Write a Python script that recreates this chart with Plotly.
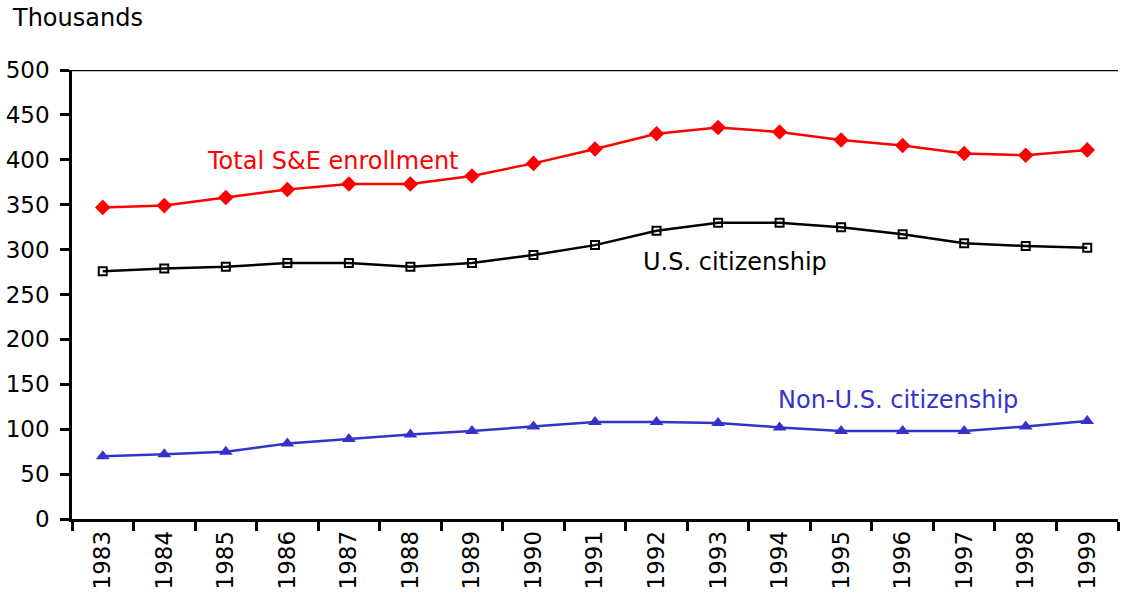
import plotly.graph_objects as go

years = [str(y) for y in range(1983, 2000)]
total_se = [347, 349, 358, 367, 373, 373, 382, 396, 412, 429, 436, 431, 422, 416, 407, 405, 411]
us_citizens = [276, 279, 281, 285, 285, 281, 285, 294, 305, 321, 330, 330, 325, 317, 307, 304, 302]
non_us_citizens = [70, 72, 75, 84, 89, 94, 98, 103, 108, 108, 107, 102, 98, 98, 98, 103, 109]

FONT = "DejaVu Sans"
RED = "#FF0000"
BLACK = "#000000"
BLUE = "#3333CC"

fig = go.Figure()

fig.add_trace(go.Scatter(
    x=years, y=total_se, mode="lines+markers",
    line=dict(color=RED, width=2.5),
    marker=dict(symbol="diamond", size=12, color=RED),
    name="Total S&E enrollment",
))
fig.add_trace(go.Scatter(
    x=years, y=us_citizens, mode="lines+markers",
    line=dict(color=BLACK, width=2.5),
    marker=dict(symbol="square-open", size=8, color=BLACK, line=dict(width=2, color=BLACK)),
    name="U.S. citizenship",
))
fig.add_trace(go.Scatter(
    x=years, y=non_us_citizens, mode="lines+markers",
    line=dict(color=BLUE, width=2.5),
    marker=dict(symbol="triangle-up", size=12, color=BLUE),
    name="Non-U.S. citizenship",
))

# Series labels placed next to their lines (x given as category index)
fig.add_annotation(x=3.74, y=399, text="Total S&E enrollment", showarrow=False,
                   xanchor="center", yanchor="middle",
                   font=dict(family=FONT, size=24, color=RED))
fig.add_annotation(x=10.28, y=286, text="U.S. citizenship", showarrow=False,
                   xanchor="center", yanchor="middle",
                   font=dict(family=FONT, size=24, color=BLACK))
fig.add_annotation(x=12.93, y=132, text="Non-U.S. citizenship", showarrow=False,
                   xanchor="center", yanchor="middle",
                   font=dict(family=FONT, size=24, color=BLUE))

# Unit label above the value axis
fig.add_annotation(x=0, y=1, xref="paper", yref="paper", xshift=-62, yshift=52,
                   text="Thousands", showarrow=False, xanchor="left", yanchor="middle",
                   font=dict(family=FONT, size=24, color=BLACK))

# Line along the top of the plotting area
fig.add_shape(type="line", xref="paper", yref="y", x0=-0.0086, x1=1, y0=500, y1=500,
              line=dict(color=BLACK, width=2.5))

fig.update_layout(
    width=1123, height=596,
    margin=dict(l=72, r=5, t=70, b=77),
    paper_bgcolor="white", plot_bgcolor="white",
    showlegend=False,
    font=dict(family=FONT, size=23, color=BLACK),
    xaxis=dict(
        type="category", tickson="boundaries",
        showgrid=False, zeroline=False,
        showline=True, linecolor=BLACK, linewidth=2.5,
        ticks="outside", ticklen=9, tickwidth=2.5, tickcolor=BLACK,
        tickangle=-90, tickfont=dict(family=FONT, size=23, color=BLACK),
        range=[-0.5, 16.5],
    ),
    yaxis=dict(
        range=[0, 500], dtick=50, tick0=0,
        showgrid=False, zeroline=False,
        showline=True, linecolor=BLACK, linewidth=2.5,
        ticks="outside", ticklen=9, tickwidth=2.5, tickcolor=BLACK,
        tickfont=dict(family=FONT, size=23, color=BLACK),
        ticklabelstandoff=6,
    ),
)

fig.write_html("out.html")
